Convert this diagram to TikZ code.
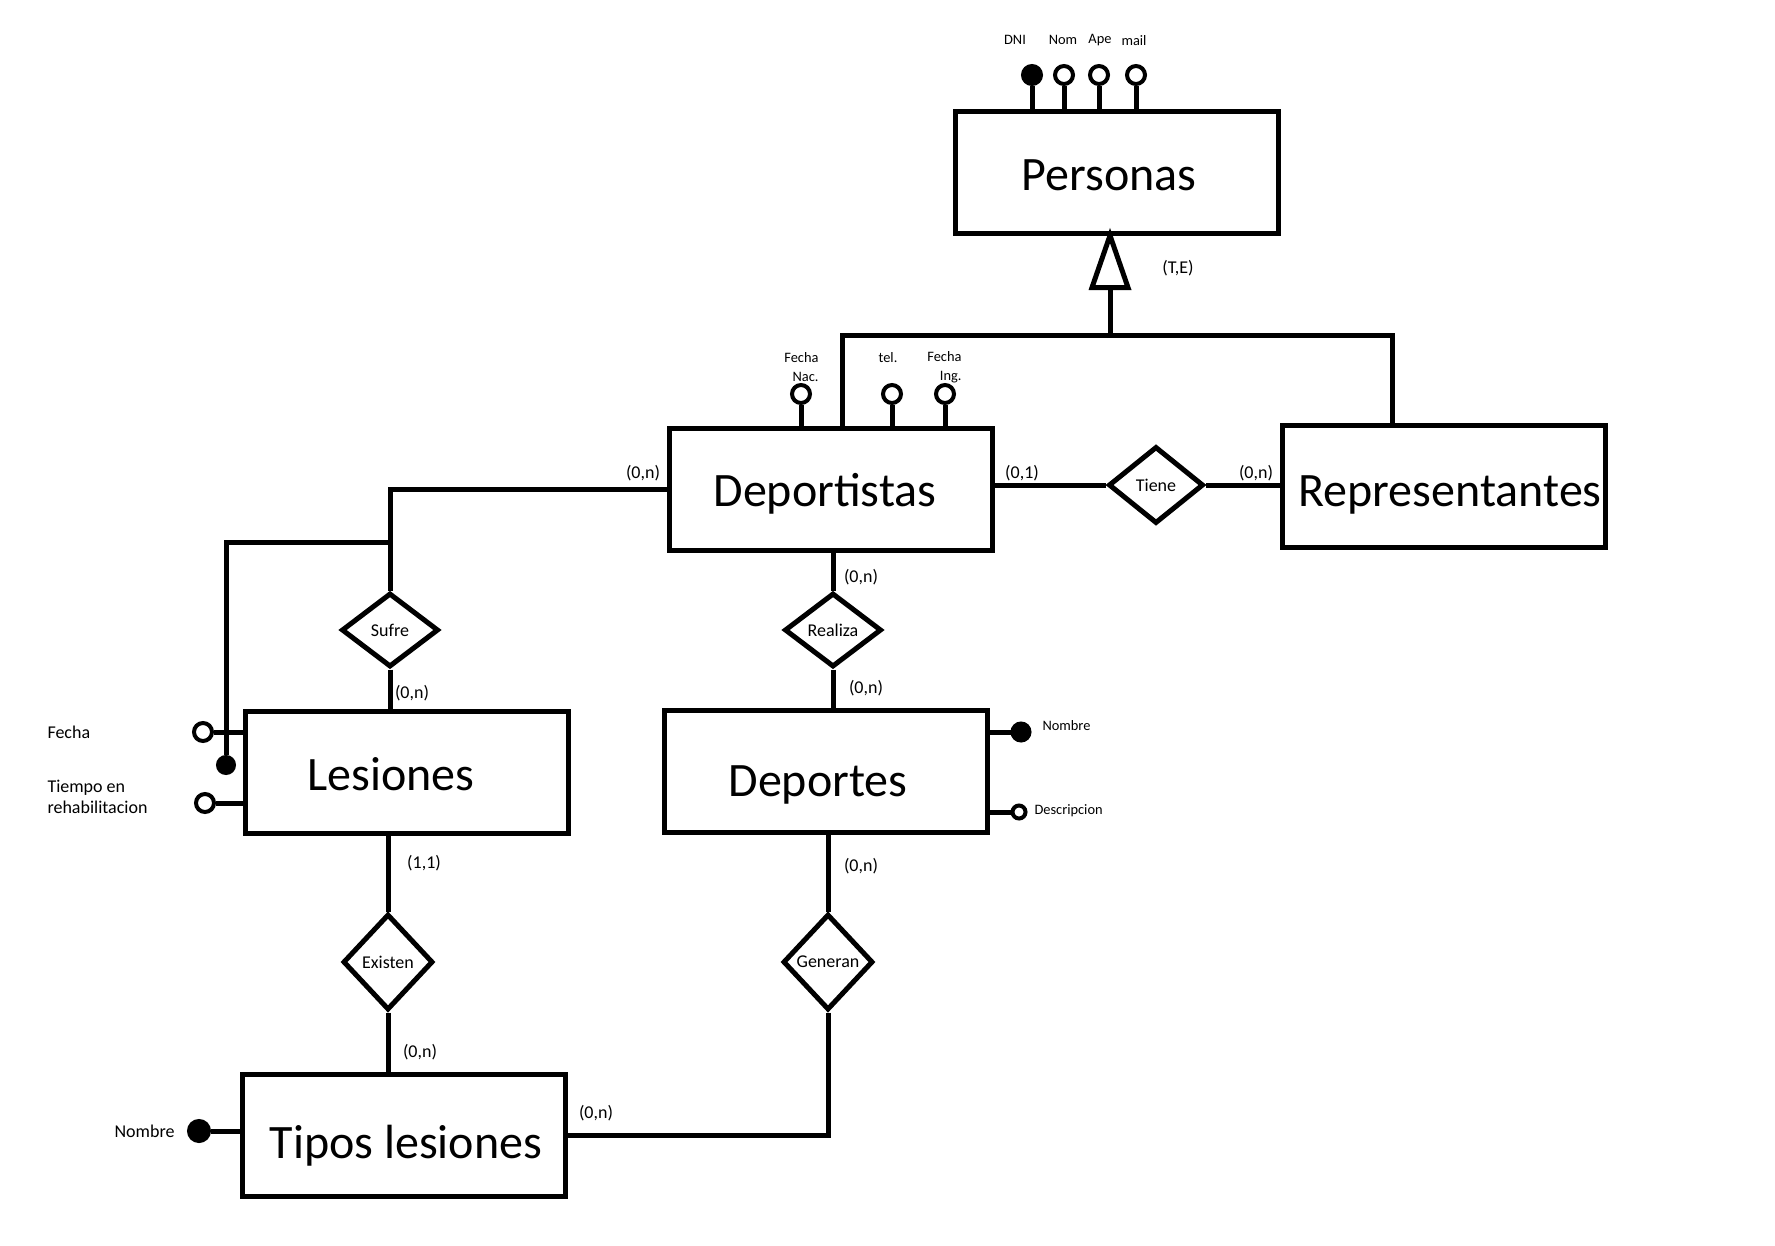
\documentclass[tikz,border=0pt]{standalone}
\usepackage{fontspec}
\setmainfont{Carlito}
\usetikzlibrary{shapes.geometric}
\tikzset{entidad/.style={draw,rectangle,line width=5pt,inner sep=0pt,
          minimum width=323pt,minimum height=122pt},
        nombre/.style={inner sep=0pt,font=\fontsize{48}{52}\selectfont},
        relacion/.style={draw,diamond,line width=5pt,inner sep=0pt,font=\fontsize{18}{21}\selectfont},
        atrib/.style={draw,circle,line width=4pt,inner sep=0pt,minimum size=18pt},
        clave/.style={atrib,fill},
        card/.style={inner sep=0pt,font=\fontsize{18}{21}\selectfont},
        etiq/.style={inner sep=0pt,font=\fontsize{14.4}{19}\selectfont}
        }

\begin{document}
\begin{tikzpicture}[x=1pt,y=-1pt,line width=5pt]
    \useasboundingbox[fill=white] (0,0) rectangle (1775,1245);
    % entidades y sus nombres
    \node[entidad] (personas) at (1117,172) {};
    \node[entidad] (deportistas) at (831,489) {};
    \node[entidad] (representantes) at (1444,486) {};
    \node[entidad] (lesiones) at (407,772) {};
    \node[entidad] (deportes) at (826,771) {};
    \node[entidad] (tipos) at (404,1135) {};
    \node[nombre] (t-personas) at ([shift={(-8,3)}]personas.center) {Personas};
    \node[nombre] (t-deportistas) at ([shift={(-6,5)}]deportistas.center) {Deportistas};
    \node[nombre] (t-representantes) at ([shift={(6,9)}]representantes.center) {Representantes};
    \node[nombre] (t-lesiones) at ([shift={(-16,2)}]lesiones.center) {Lesiones};
    \node[nombre] (t-deportes) at ([shift={(-8,14)}]deportes.center) {Deportes};
    \node[nombre] (t-tipos) at ([shift={(2,11)}]tipos.center) {Tipos lesiones};
    % relaciones
    \node[relacion,minimum width=95pt,minimum height=77pt] (tiene) at (1156,485) {Tiene};
    \node[relacion,minimum width=97pt,minimum height=74pt] (sufre) at (390,630) {Sufre};
    \node[relacion,minimum width=97pt,minimum height=74pt] (realiza) at (833,630) {Realiza};
    \node[relacion,minimum width=90pt,minimum height=96pt] (existen) at (388,962) {Existen};
    \node[relacion,minimum width=90pt,minimum height=96pt] (generan) at (828,962) {Generan};

    % jerarquia Personas -> Deportistas, Representantes
    \coordinate (isa) at (1110,285);
    \coordinate (bus) at (1110,335);
    \coordinate (bus-izq) at (842,335);
    \coordinate (bus-der) at (1392,335);
    \draw (isa |- personas.south) -- ++(-18,52) -- ++(36,0) -- cycle;
    \draw (isa) -- (bus);
    \draw (bus-izq |- deportistas.north) -- (bus-izq) -- (bus-der) -- (bus-der |- representantes.north);
    \node[card] (te) at (1178,268) {(T,E)};

    % atributos de Personas
    \node[clave] (dni) at (1032,75) {};
    \node[atrib] (nom) at (1064,75) {};
    \node[atrib] (ape) at (1099,75) {};
    \node[atrib] (mail) at (1136,75) {};
    \draw (dni) -- (dni |- personas.north);
    \draw (nom) -- (nom |- personas.north);
    \draw (ape) -- (ape |- personas.north);
    \draw (mail) -- (mail |- personas.north);
    \node[etiq] (l-dni) at (1015,40) {DNI};
    \node[etiq] (l-nom) at (1063,40) {Nom};
    \node[etiq] (l-ape) at (1100,40) {Ape};
    \node[etiq] (l-mail) at (1134,41) {mail};

    % atributos de Deportistas
    \node[atrib] (fnac) at (801,394) {};
    \node[atrib] (tel) at (892,394) {};
    \node[atrib] (fing) at (945,394) {};
    \draw (fnac) -- (fnac |- deportistas.north);
    \draw (tel) -- (tel |- deportistas.north);
    \draw (fing) -- (fing |- deportistas.north);
    \node[etiq,align=right,anchor=east] (l-fnac) at (821,367) {Fecha\\Nac.};
    \node[etiq] (l-tel) at (888,358) {tel.};
    \node[etiq,align=right,anchor=east] (l-fing) at (964,367) {Fecha\\Ing.};

    % Deportistas - Tiene - Representantes
    \draw (tiene.west) -- (tiene.west -| deportistas.east);
    \draw (tiene.east) -- (tiene.east -| representantes.west);
    \node[card] (c-tiene1) at (1022,473) {(0,1)};
    \node[card] (c-tiene2) at (1256,473) {(0,n)};

    % Deportistas - Sufre - Lesiones
    \coordinate (rama) at (390,542);
    \node[clave,minimum size=16pt] (id-les) at (226,765) {};
    \draw (deportistas.west) -| (sufre.north);
    \draw (rama) -| (id-les);
    \draw (sufre.south) -- (sufre.south |- lesiones.north);
    \node[card] (c-sufre1) at (643,473) {(0,n)};
    \node[card] (c-sufre2) at (412,693) {(0,n)};

    % atributos de Lesiones
    \node[atrib] (fecha) at (203,732) {};
    \node[atrib] (tiempo) at (205,803) {};
    \draw (fecha) -- (fecha -| lesiones.west);
    \draw (tiempo) -- (tiempo -| lesiones.west);
    \node[card,anchor=west] (l-fecha) at (45,732) {Fecha};
    \node[card,anchor=west,align=left] (l-tiempo) at (45,797) {Tiempo en\\rehabilitacion};

    % Deportistas - Realiza - Deportes
    \draw (realiza.north) -- (realiza.north |- deportistas.south);
    \draw (realiza.south) -- (realiza.south |- deportes.north);
    \node[card] (c-realiza1) at (861,577) {(0,n)};
    \node[card] (c-realiza2) at (866,688) {(0,n)};

    % atributos de Deportes
    \node[clave,minimum size=17pt] (nombre-dep) at (1021,732) {};
    \node[atrib,minimum size=13pt] (desc) at (1019,812) {};
    \draw (nombre-dep) -- (nombre-dep -| deportes.east);
    \draw (desc) -- (desc -| deportes.east);
    \node[etiq,anchor=west] (l-nombre-dep) at (1040,726) {Nombre};
    \node[etiq,anchor=west] (l-desc) at (1032,811) {Descripcion};

    % Lesiones - Existen - Tipos lesiones
    \draw (existen.north) -- (existen.north |- lesiones.south);
    \draw (existen.south) -- (existen.south |- tipos.north);
    \node[card] (c-existen1) at (424,863) {(1,1)};
    \node[card] (c-existen2) at (420,1052) {(0,n)};

    % Deportes - Generan - Tipos lesiones
    \draw (generan.north) -- (generan.north |- deportes.south);
    \draw (generan.south) |- (tipos.east);
    \node[card] (c-generan1) at (861,866) {(0,n)};
    \node[card] (c-generan2) at (596,1113) {(0,n)};

    % atributo de Tipos lesiones
    \node[clave,minimum size=20pt] (nombre-tipo) at (199,1131) {};
    \draw (nombre-tipo) -- (nombre-tipo -| tipos.west);
    \node[card,anchor=east] (l-nombre-tipo) at (177,1131) {Nombre};
\end{tikzpicture}
\end{document}
